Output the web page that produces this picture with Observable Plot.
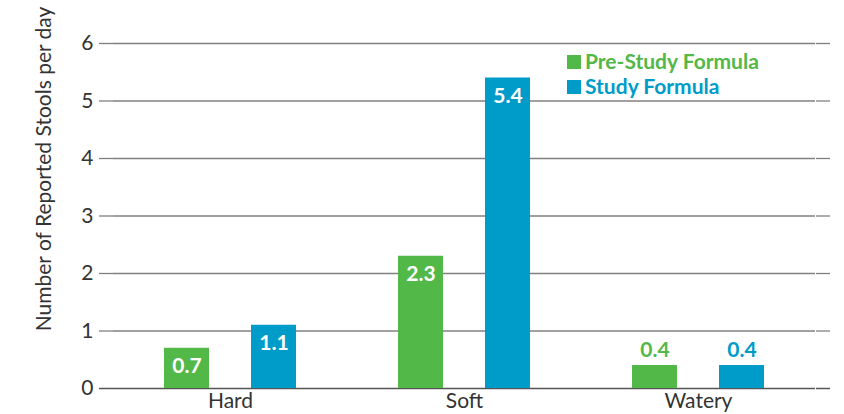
<!DOCTYPE html>
<html><head><meta charset="utf-8">
<script src="https://cdn.jsdelivr.net/npm/d3@7"></script>
<script src="https://cdn.jsdelivr.net/npm/@observablehq/plot@0.6"></script>
<style>
body{margin:0;background:#fff;font-family:Lato,"Noto Sans",sans-serif}
#wrap{position:relative;width:844px;height:414px;overflow:hidden}
#ylabel{position:absolute;left:42px;top:169px;transform:translate(-50%,-50%) rotate(-90deg);white-space:nowrap;font-size:21px;color:#333}
.leg{position:absolute;left:567px;font-weight:bold;font-size:21px;line-height:24px;white-space:nowrap}
.leg span.sw{display:inline-block;width:14px;height:14px;margin-right:4px;vertical-align:0px}
</style></head><body><div id="wrap"></div>
<script>
const categories = ["Hard", "Soft", "Watery"];
const seriesNames = ["Pre-Study Formula", "Study Formula"];
const preStudy = [0.7, 2.3, 0.4];
const study = [1.1, 5.4, 0.4];
const yTicks = [0, 1, 2, 3, 4, 5, 6];
const colors = ["#52b848", "#009cc9"];
const yLabel = "Number of Reported Stools per day";

const data = categories.flatMap((c, i) => [
  {category: c, series: seriesNames[0], value: preStudy[i]},
  {category: c, series: seriesNames[1], value: study[i]}
]);

const gridColor = "#808080", baseColor = "#555";
const upper = yTicks.filter(d => d > 0);

const chart = Plot.plot({
  width: 844, height: 414,
  marginLeft: 98, marginRight: 14, marginTop: 43, marginBottom: 26,
  style: {fontFamily: "Lato, 'Noto Sans', sans-serif", background: "#fff", color: "#333"},
  fx: {domain: categories, paddingInner: 0, paddingOuter: 0.06, label: null},
  x: {domain: seriesNames, paddingInner: 0.48, paddingOuter: 0.57, axis: null},
  y: {domain: [0, 6], label: null},
  color: {domain: seriesNames, range: colors},
  marks: [
    Plot.ruleY(upper, {stroke: gridColor, strokeWidth: 1.3}),
    Plot.ruleY([0], {stroke: baseColor, strokeWidth: 1.5}),
    Plot.axisY({ticks: upper, tickSize: 14, tickPadding: 6, fontSize: 21, label: null, tickFormat: d => d, stroke: gridColor, strokeWidth: 1.3}),
    Plot.axisY({ticks: [0], tickSize: 14, tickPadding: 6, fontSize: 21, label: null, tickFormat: d => d, stroke: baseColor, strokeWidth: 1.5}),
    Plot.axisY({anchor: "right", ticks: upper, tickSize: 14, label: null, tickFormat: () => "", stroke: gridColor, strokeWidth: 1.3}),
    Plot.axisY({anchor: "right", ticks: [0], tickSize: 14, label: null, tickFormat: () => "", stroke: baseColor, strokeWidth: 1.5}),
    Plot.axisFx({anchor: "bottom", tickSize: 0, tickPadding: 5, fontSize: 21, label: null}),
    Plot.barY(data, {fx: "category", x: "series", y: "value", fill: "series"}),
    Plot.text(data.filter(d => d.value >= 0.5), {fx: "category", x: "series", y: "value", text: d => d.value.toFixed(1), fill: "white", dy: 18, fontWeight: "bold", fontSize: 21}),
    Plot.text(data.filter(d => d.value < 0.5), {fx: "category", x: "series", y: "value", text: d => d.value.toFixed(1), fill: "series", dy: -15, fontWeight: "bold", fontSize: 21})
  ]
});

const wrap = document.getElementById("wrap");
wrap.appendChild(chart);
const yl = document.createElement("div");
yl.id = "ylabel"; yl.textContent = yLabel;
wrap.appendChild(yl);
seriesNames.forEach((s, i) => {
  const d = document.createElement("div");
  d.className = "leg";
  d.style.top = (49 + i * 25) + "px";
  d.style.color = colors[i];
  const sw = document.createElement("span");
  sw.className = "sw"; sw.style.background = colors[i];
  d.appendChild(sw);
  d.appendChild(document.createTextNode(s));
  wrap.appendChild(d);
});
</script></body></html>
